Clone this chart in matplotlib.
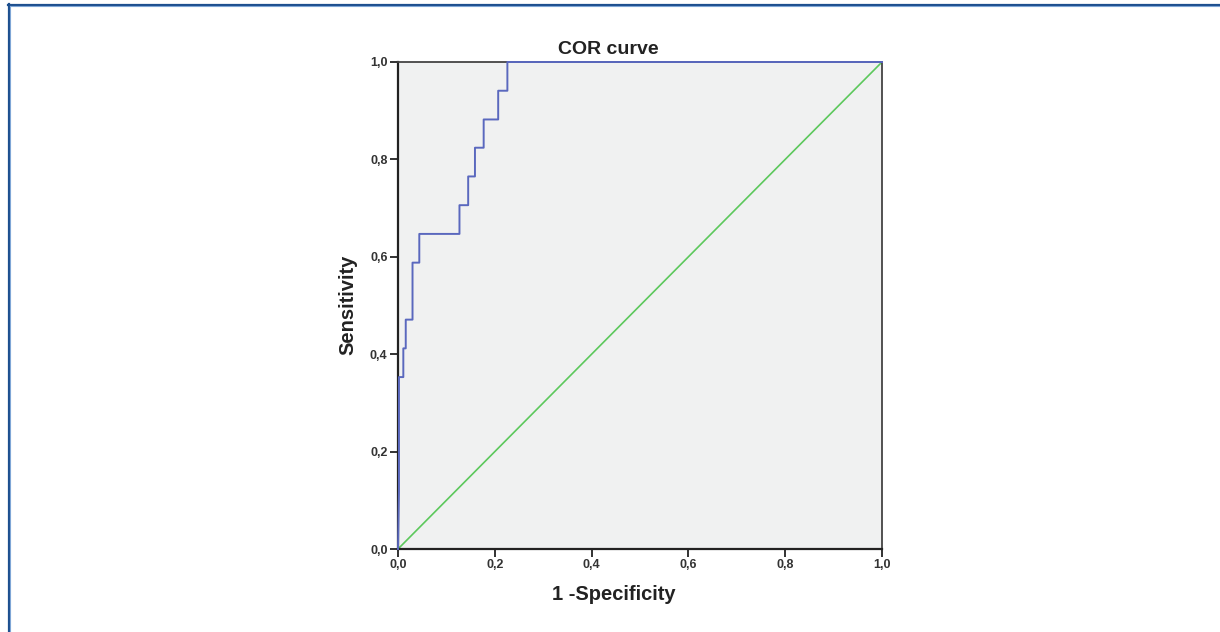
import matplotlib
matplotlib.use("Agg")
import matplotlib.pyplot as plt
from matplotlib.lines import Line2D

plt.rcParams['font.family'] = ['Liberation Sans', 'DejaVu Sans']

# ROC curve vertices (1 - specificity, sensitivity)
fpr = [0.0, 0.002, 0.002, 0.011, 0.011, 0.016, 0.016, 0.030, 0.030, 0.044, 0.044,
       0.127, 0.127, 0.145, 0.145, 0.159, 0.159, 0.177, 0.177, 0.207, 0.207,
       0.226, 0.226, 1.0]
tpr = [0.0, 0.118, 0.353, 0.353, 0.412, 0.412, 0.471, 0.471, 0.588, 0.588, 0.647,
       0.647, 0.706, 0.706, 0.765, 0.765, 0.824, 0.824, 0.882, 0.882, 0.941,
       0.941, 1.0, 1.0]
ref_x = [0.0, 1.0]
ref_y = [0.0, 1.0]
ticks = [0.0, 0.2, 0.4, 0.6, 0.8, 1.0]
tick_labels = ["0,0", "0,2", "0,4", "0,6", "0,8", "1,0"]

W, H = 1220, 632
fig = plt.figure(figsize=(W / 100, H / 100), dpi=100)
fig.patch.set_facecolor('white')

L, R, T, B = 398, 882, 62, 549
ax = fig.add_axes([L / W, 1 - B / H, (R - L) / W, (B - T) / H])
ax.set_facecolor('#f0f1f1')

ax.plot(ref_x, ref_y, color='#5cc85c', lw=1.2, zorder=2)
ax.plot(fpr, tpr, color='#5a68be', lw=1.4, zorder=3, clip_on=False)

ax.set_xlim(0, 1)
ax.set_ylim(0, 1)
ax.set_xticks(ticks)
ax.set_xticklabels(tick_labels)
ax.set_yticks(ticks)
ax.set_yticklabels(tick_labels)
ax.tick_params(direction='out', length=6, width=1.3, colors='#222222',
               labelsize=9, labelcolor='#333333', pad=1.5)
for lab in ax.get_xticklabels() + ax.get_yticklabels():
    lab.set_fontweight('bold')
for side in ['left', 'bottom']:
    ax.spines[side].set_linewidth(1.6)
    ax.spines[side].set_color('#222222')
for side in ['top', 'right']:
    ax.spines[side].set_linewidth(1.3)
    ax.spines[side].set_color('#444444')

fig.text(608 / W, 1 - 49 / H, "COR curve", ha='center', va='center',
         fontsize=14, fontweight='bold', color='#222222')
fig.text(614 / W, 1 - 594 / H, "1 -Specificity", ha='center', va='center',
         fontsize=14.5, fontweight='bold', color='#222222')
fig.text(348 / W, 1 - 305 / H, "Sensitivity", ha='center', va='center',
         rotation=90, fontsize=14.5, fontweight='bold', color='#222222')

# outer frame (top and left borders)
fig.add_artist(Line2D([8 / W, 1], [1 - 4.5 / H, 1 - 4.5 / H], color='#1d4f8f', lw=1.6))
fig.add_artist(Line2D([9 / W, 1], [1 - 6 / H, 1 - 6 / H], color='#7fa6d6', lw=0.8))
fig.add_artist(Line2D([8.5 / W, 8.5 / W], [0, 1 - 4 / H], color='#1d4f8f', lw=1.6))
fig.add_artist(Line2D([10 / W, 10 / W], [0, 1 - 6 / H], color='#7fa6d6', lw=0.8))

fig.savefig("out.png", dpi=100, facecolor='white')
